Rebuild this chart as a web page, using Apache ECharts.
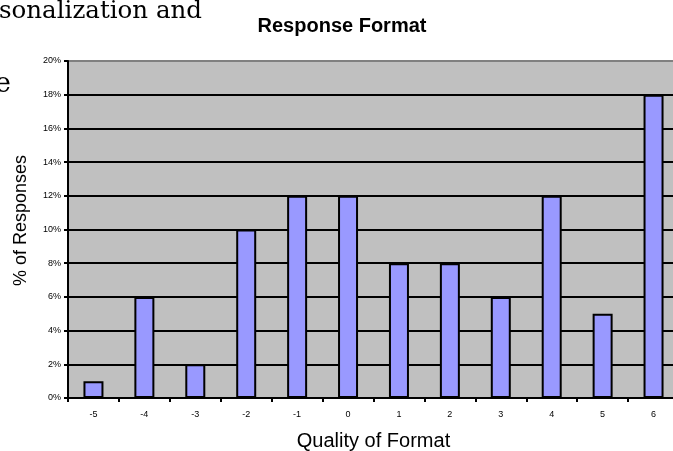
<!DOCTYPE html>
<html>
<head>
<meta charset="utf-8">
<script src="https://cdn.jsdelivr.net/npm/echarts@6/dist/echarts.min.js"></script>
<style>html,body{margin:0;padding:0;background:#fff;}#c{width:673px;height:451px;}</style>
</head>
<body>
<div id="c"></div>
<script>
var categories = ['-5','-4','-3','-2','-1','0','1','2','3','4','5','6'];
var values = [1, 6, 2, 10, 12, 12, 8, 8, 6, 12, 5, 18];
var yTicks = [0, 2, 4, 6, 8, 10, 12, 14, 16, 18, 20];

var chart = echarts.init(document.getElementById('c'), null, {renderer: 'canvas'});
var splitColors = yTicks.map(function (v, i) { return i === yTicks.length - 1 ? '#808080' : '#000000'; });
chart.setOption({
  animation: false,
  backgroundColor: '#ffffff',
  title: {
    text: 'Response Format', left: 337, top: 11, textAlign: 'center',
    textStyle: {fontFamily: 'Arial, Liberation Sans', fontSize: 20, fontWeight: 'bold', color: '#000'}
  },
  graphic: [
    {type: 'text', left: -1, top: -1, style: {text: 'sonalization and', font: '24.5px "DejaVu Serif", serif', fill: '#000'}},
    {type: 'text', left: -5, top: 71, style: {text: 'e', font: '27px "DejaVu Serif", serif', fill: '#000'}}
  ],
  grid: {left: 68, top: 61, width: 611, height: 337, backgroundColor: '#c0c0c0', show: true, borderWidth: 0, outerBoundsMode: 'none', containLabel: false},
  xAxis: {
    type: 'category', data: categories,
    name: 'Quality of Format', nameLocation: 'middle', nameGap: 33,
    nameTextStyle: {fontFamily: 'Arial, Liberation Sans', fontSize: 20, color: '#000'},
    axisLine: {lineStyle: {color: '#000', width: 2}},
    axisTick: {show: true, alignWithLabel: false, length: 4, lineStyle: {color: '#000', width: 2}},
    axisLabel: {fontFamily: 'Arial, Liberation Sans', fontSize: 9, color: '#000', margin: 12}
  },
  yAxis: {
    type: 'value', min: 0, max: 20, interval: 2,
    name: '% of Responses', nameLocation: 'middle', nameGap: 38, nameRotate: 90,
    nameTextStyle: {fontFamily: 'Arial, Liberation Sans', fontSize: 18, color: '#000', padding: [0, 0, 0, 18]},
    axisLine: {show: true, lineStyle: {color: '#000', width: 2}},
    axisTick: {show: true, length: 4, lineStyle: {color: '#000', width: 2}},
    axisLabel: {fontFamily: 'Arial, Liberation Sans', fontSize: 9, color: '#000', margin: 7, formatter: '{value}%'},
    splitLine: {show: true, lineStyle: {color: splitColors, width: 2}}
  },
  series: [{
    type: 'bar', data: values, barWidth: 20,
    itemStyle: {color: '#9999ff', borderColor: '#000', borderWidth: 2}
  }]
});
</script>
</body>
</html>
